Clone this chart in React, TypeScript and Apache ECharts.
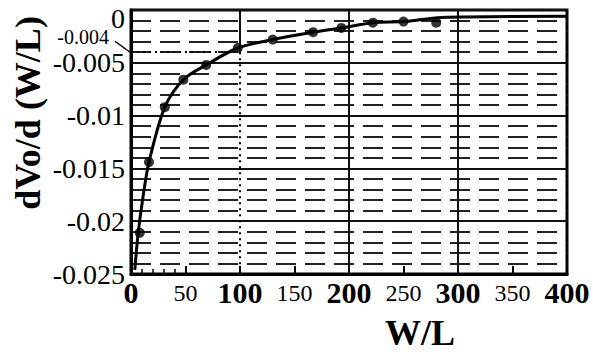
import React, { useEffect, useRef } from "react";
import * as echarts from "echarts";

// Fitted curve
const curveX = [3.5, 6.5, 11, 16.5, 31, 48, 69, 98, 130, 167, 193, 222, 250, 285, 400];
const curveY = [-0.0246, -0.0212, -0.0177, -0.0144, -0.0092, -0.0066, -0.0052, -0.0036, -0.0028, -0.0021, -0.0017, -0.0012, -0.0011, -0.0007, -0.0006];
// Measured points (markers)
const pointX = [8, 16.5, 31, 48, 69, 98, 130, 167, 193, 222, 250, 280];
const pointY = [-0.0211, -0.0144, -0.0092, -0.0066, -0.0052, -0.0036, -0.0028, -0.0021, -0.0017, -0.0012, -0.0011, -0.0012];
// Small x-axis ticks shown only near the origin
const minorXTicks = [10, 20, 30, 40];
// Full-height solid vertical grid lines
const majorXLines = [200, 300];
// Reference (dotted) marker lines
const refX = 100;
const refY = -0.004;
const refLabel = "-0.004";
const xTitle = "W/L";
const yTitle = "dVo/d (W/L)";

const FONT = "Liberation Serif";

export default function App() {
  const ref = useRef<HTMLDivElement>(null);
  useEffect(() => {
    if (!ref.current) return;
    const chart = echarts.init(ref.current, undefined, { renderer: "svg" });
    const option: any = {
      animation: false,
      backgroundColor: "#fff",
      textStyle: { fontFamily: FONT },
      grid: { left: 131, right: 26, top: 10, bottom: 78, show: true, borderColor: "#000", borderWidth: 3, backgroundColor: "transparent" },
      xAxis: [
        {
          type: "value", min: 0, max: 400, interval: 50,
          axisLine: { show: true, onZero: false, lineStyle: { color: "#000", width: 3 } },
          axisTick: { show: true, inside: true, length: 8, lineStyle: { color: "#000", width: 2 } },
          splitLine: { show: false },
          axisLabel: {
            margin: 3,
            fontFamily: FONT,
            formatter: (v: number) => (v % 100 === 0 ? `{a|${v}}` : `{b|${v}}`),
            rich: {
              a: { fontSize: 30, fontWeight: "bold", fontFamily: FONT, color: "#000" },
              b: { fontSize: 24, fontFamily: FONT, color: "#000", padding: [4, 0, 0, 0] },
            },
          },
        },
        {
          type: "value", min: 0, max: 400, position: "bottom",
          axisLine: { show: false, onZero: false }, axisLabel: { show: false }, splitLine: { show: false },
          axisTick: { show: true, inside: true, length: 5, customValues: minorXTicks, lineStyle: { color: "#000", width: 1.5 } },
        },
      ],
      yAxis: [
        {
          type: "value", min: -0.025, max: 0, interval: 0.001,
          axisLine: { show: false, onZero: false }, axisTick: { show: false }, axisLabel: { show: false },
          splitLine: { show: true, lineStyle: { color: "#222", width: 2, type: [20, 9] } },
        },
        {
          type: "value", min: -0.025, max: 0, interval: 0.005, position: "left",
          axisLine: { show: true, onZero: false, lineStyle: { color: "#000", width: 3 } },
          axisTick: { show: false },
          splitLine: { show: true, lineStyle: { color: "#111", width: 2, type: "solid" } },
          axisLabel: {
            margin: 6,
            fontFamily: FONT,
            formatter: (v: number) => {
              const s = String(Math.round(v * 1000) / 1000);
              return v === 0 ? `{z|${s}}` : `{n|${s}}`;
            },
            rich: {
              n: { fontSize: 28, fontFamily: FONT, color: "#000" },
              z: { fontSize: 28, fontFamily: FONT, color: "#000", padding: [16, 0, 0, 0] },
            },
          },
        },
      ],
      series: [
        {
          type: "line",
          xAxisIndex: 0, yAxisIndex: 0,
          data: [],
          z: 2,
          markLine: {
            silent: true,
            symbol: "none",
            label: { show: false },
            lineStyle: { color: "#111", width: 2, type: "solid" },
            data: [
              ...majorXLines.map((x) => ({ xAxis: x })),
              [{ coord: [refX, 0] }, { coord: [refX, refY] }],
            ],
          },
        },
        {
          type: "line",
          xAxisIndex: 0, yAxisIndex: 0,
          data: curveX.map((x, i) => [x, curveY[i]]),
          smooth: 0.3,
          showSymbol: false,
          lineStyle: { color: "#000", width: 3 },
          z: 5,
          markLine: {
            silent: true,
            symbol: "none",
            label: { show: false },
            lineStyle: { color: "#000", width: 2, type: [2, 4] },
            data: [
              [{ coord: [0, refY] }, { coord: [refX, refY] }],
              [{ coord: [refX, refY] }, { coord: [refX, -0.025] }],
            ],
          },
        },
        {
          type: "scatter",
          xAxisIndex: 0, yAxisIndex: 0,
          data: pointX.map((x, i) => [x, pointY[i]]),
          symbol: "circle",
          symbolSize: 10,
          itemStyle: { color: "#000" },
          z: 6,
        },
      ],
    };
    chart.setOption(option);
    const p = chart.convertToPixel({ xAxisIndex: 0, yAxisIndex: 0 }, [0, refY]) as number[];
    chart.setOption({
      graphic: [
        {
          type: "text",
          x: p[0] - 22, y: p[1] - 15,
          style: { text: refLabel, fontSize: 20, fontFamily: FONT, fill: "#000", align: "right", verticalAlign: "middle" },
        },
        {
          type: "line",
          shape: { x1: p[0] - 16, y1: p[1] - 11, x2: p[0] - 1, y2: p[1] },
          style: { stroke: "#000", lineWidth: 1.5 },
        },
        {
          type: "text",
          x: 28, y: 113, rotation: Math.PI / 2,
          style: { text: yTitle, fontSize: 36, fontWeight: "bold", fontFamily: FONT, fill: "#000", align: "center", verticalAlign: "middle" },
        },
        {
          type: "text",
          x: 420, y: 333,
          style: { text: xTitle, fontSize: 36, fontWeight: "bold", fontFamily: FONT, fill: "#000", align: "center", verticalAlign: "middle" },
        },
      ],
    });
    return () => chart.dispose();
  }, []);
  return <div ref={ref} style={{ position: "fixed", left: 0, top: 0, width: 593, height: 352 }} />;
}
